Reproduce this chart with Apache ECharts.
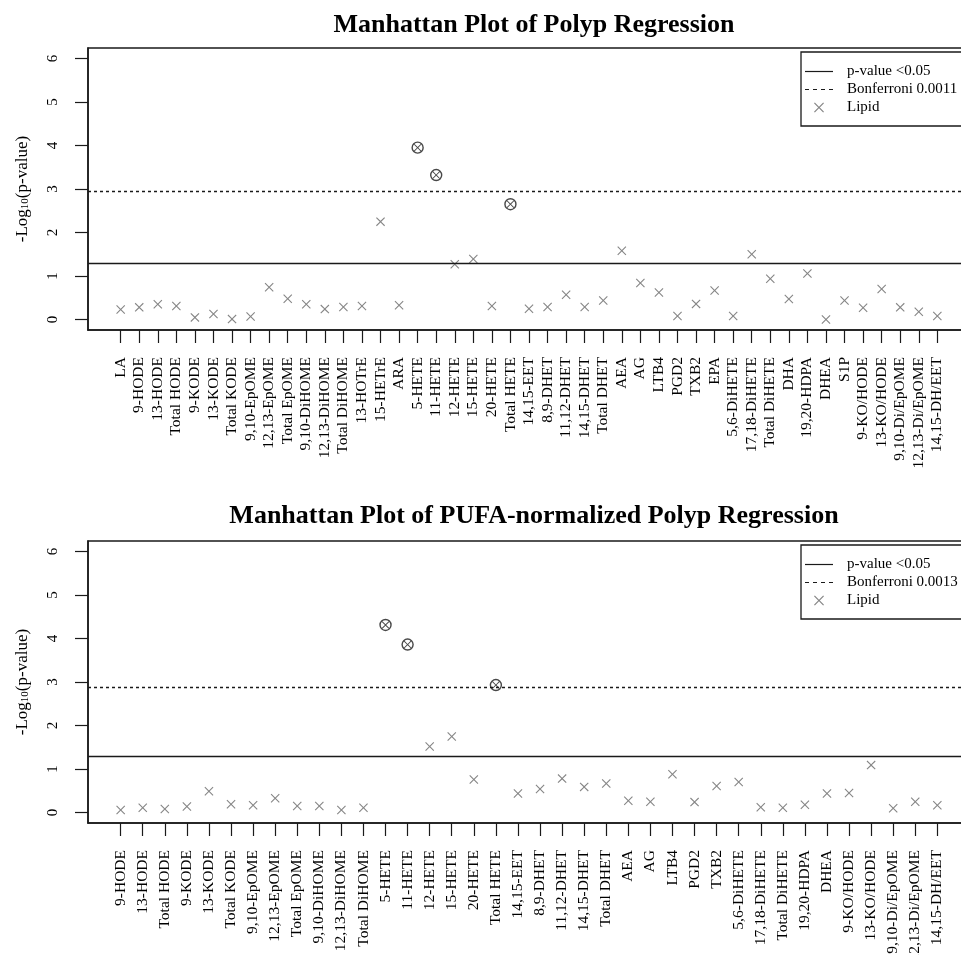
<!DOCTYPE html>
<html>
<head>
<meta charset="utf-8">
<script src="https://cdn.jsdelivr.net/npm/echarts@6/dist/echarts.min.js"></script>
<style>
  html, body { margin: 0; padding: 0; background: #fff; }
  #chart { width: 961px; height: 955px; }
</style>
</head>
<body>
<div id="chart"></div>
<script>
// ---------- data ----------
const topTitle = 'Manhattan Plot of Polyp Regression';
const bottomTitle = 'Manhattan Plot of PUFA-normalized Polyp Regression';

const topCategories = ['LA','9-HODE','13-HODE','Total HODE','9-KODE','13-KODE','Total KODE',
  '9,10-EpOME','12,13-EpOME','Total EpOME','9,10-DiHOME','12,13-DiHOME','Total DiHOME',
  '13-HOTrE','15-HETrE','ARA','5-HETE','11-HETE','12-HETE','15-HETE','20-HETE','Total HETE',
  '14,15-EET','8,9-DHET','11,12-DHET','14,15-DHET','Total DHET','AEA','AG','LTB4','PGD2','TXB2',
  'EPA','5,6-DiHETE','17,18-DiHETE','Total DiHETE','DHA','19,20-HDPA','DHEA','S1P',
  '9-KO/HODE','13-KO/HODE','9,10-Di/EpOME','12,13-Di/EpOME','14,15-DH/EET'];
const topValues = [0.23,0.28,0.35,0.31,0.05,0.13,0.01,0.07,0.74,0.48,0.35,0.24,0.29,
  0.31,2.25,0.33,3.95,3.32,1.27,1.39,0.31,2.65,
  0.25,0.29,0.57,0.29,0.44,1.58,0.84,0.62,0.08,0.36,
  0.67,0.08,1.50,0.94,0.47,1.06,0.00,0.44,
  0.27,0.70,0.28,0.18,0.08];
const topSignificant = ['5-HETE','11-HETE','Total HETE'];

const bottomCategories = ['9-HODE','13-HODE','Total HODE','9-KODE','13-KODE','Total KODE',
  '9,10-EpOME','12,13-EpOME','Total EpOME','9,10-DiHOME','12,13-DiHOME','Total DiHOME',
  '5-HETE','11-HETE','12-HETE','15-HETE','20-HETE','Total HETE',
  '14,15-EET','8,9-DHET','11,12-DHET','14,15-DHET','Total DHET','AEA','AG','LTB4','PGD2','TXB2',
  '5,6-DiHETE','17,18-DiHETE','Total DiHETE','19,20-HDPA','DHEA',
  '9-KO/HODE','13-KO/HODE','9,10-Di/EpOME','12,13-Di/EpOME','14,15-DH/EET'];
const bottomValues = [0.06,0.11,0.08,0.14,0.49,0.19,0.17,0.33,0.15,0.15,0.06,0.11,
  4.31,3.86,1.52,1.75,0.76,2.93,
  0.44,0.54,0.78,0.59,0.67,0.27,0.25,0.88,0.24,0.61,
  0.70,0.12,0.11,0.18,0.44,
  0.45,1.09,0.10,0.25,0.17];
const bottomSignificant = ['5-HETE','11-HETE','Total HETE'];

const yTickValues = [0,1,2,3,4,5,6];
const pLabel = 'p-value <0.05';
const topBonfLabel = 'Bonferroni 0.0011';
const bottomBonfLabel = 'Bonferroni 0.0013';
const alpha = 0.05;

// ---------- styling helpers ----------
const FONT = "'Liberation Serif', 'DejaVu Serif', serif";
const INK = '#1a1a1a';
const X_PATH = 'path://M0,0.85 L0.85,0 L5,4.15 L9.15,0 L10,0.85 L5.85,5 L10,9.15 L9.15,10 L5,5.85 L0.85,10 L0,9.15 L4.15,5 Z';
const SOLID_ICON = 'path://M0,0 L28,0 L28,1.2 L0,1.2 Z';
const DASH_ICON = 'path://M0,0 L4,0 L4,1.2 L0,1.2 Z M8,0 L12,0 L12,1.2 L8,1.2 Z M16,0 L20,0 L20,1.2 L16,1.2 Z M24,0 L28,0 L28,1.2 L24,1.2 Z';

function buildPanel(idx, cats, vals, sigNames, bonfLabel, topPx, titleTop) {
  const n = cats.length;
  const pad = 0.04 * (n - 1);
  const ticks = cats.map((_, i) => i + 1);
  const sig = [], non = [];
  vals.forEach((v, i) => {
    (sigNames.indexOf(cats[i]) >= 0 ? sig : non).push([i + 1, v]);
  });
  const grid = { left: 88, top: topPx, width: 882, height: 282, show: true,
    containLabel: false, outerBoundsMode: 'none',
    borderColor: INK, borderWidth: 1.5, backgroundColor: 'transparent' };
  const xAxis = {
    type: 'value', gridIndex: idx, min: 1 - pad, max: n + pad, position: 'bottom',
    axisLine: { show: true, onZero: false, lineStyle: { color: INK, width: 1.5 } },
    axisTick: { show: true, length: 13, customValues: ticks, lineStyle: { color: INK, width: 1.2 } },
    axisLabel: { show: true, customValues: ticks, rotate: 90, margin: 27,
      fontFamily: FONT, fontSize: 15.5, color: '#000',
      formatter: v => cats[Math.round(v) - 1] || '' },
    splitLine: { show: false }
  };
  const yAxis = {
    type: 'value', gridIndex: idx, min: -0.24, max: 6.24, position: 'left',
    name: '-Log{s|10}(p-value)', nameLocation: 'middle', nameGap: 57, nameRotate: 90,
    nameTextStyle: { fontFamily: FONT, fontSize: 17, color: '#000',
      rich: { s: { fontFamily: FONT, fontSize: 11, color: '#000', padding: [6, 0, 0, 0] } } },
    axisLine: { show: true, onZero: false, lineStyle: { color: INK, width: 1.5 } },
    axisTick: { show: true, length: 13, customValues: yTickValues, lineStyle: { color: INK, width: 1.2 } },
    axisLabel: { show: true, customValues: yTickValues, rotate: 90, margin: 27,
      fontFamily: FONT, fontSize: 15, color: '#000' },
    splitLine: { show: false }
  };
  const series = [
    { type: 'line', name: pLabel, xAxisIndex: idx, yAxisIndex: idx, data: [],
      symbol: 'none', lineStyle: { color: INK, width: 1.3, type: 'solid' }, itemStyle: { color: INK },
      markLine: { silent: true, symbol: ['none', 'none'], label: { show: false },
        lineStyle: { color: INK, width: 1.3, type: 'solid' },
        data: [{ yAxis: -Math.log10(alpha) }] } },
    { type: 'line', name: bonfLabel, xAxisIndex: idx, yAxisIndex: idx, data: [],
      symbol: 'none', lineStyle: { color: INK, width: 1.3, type: [3, 3] }, itemStyle: { color: INK },
      markLine: { silent: true, symbol: ['none', 'none'], label: { show: false },
        lineStyle: { color: INK, width: 1.3, type: [3, 3] },
        data: [{ yAxis: -Math.log10(alpha / n) }] } },
    { type: 'scatter', name: 'Lipid', xAxisIndex: idx, yAxisIndex: idx, data: non,
      symbol: X_PATH, symbolSize: 9, itemStyle: { color: '#666' }, silent: true },
    { type: 'scatter', name: 'sig-circle', xAxisIndex: idx, yAxisIndex: idx, data: sig,
      symbol: 'circle', symbolSize: 11,
      itemStyle: { color: 'rgba(0,0,0,0)', borderColor: INK, borderWidth: 1.4 }, silent: true },
    { type: 'scatter', name: 'sig-x', xAxisIndex: idx, yAxisIndex: idx, data: sig,
      symbol: X_PATH, symbolSize: 7.5, itemStyle: { color: INK }, silent: true }
  ];
  const title = { text: idx === 0 ? topTitle : bottomTitle, left: 529, textAlign: 'center', top: titleTop,
    textStyle: { fontFamily: FONT, fontSize: 26, fontWeight: 'bold', color: '#000' } };
  const legend = {
    orient: 'vertical', left: 801, top: topPx + 4, selectedMode: false,
    borderColor: INK, borderWidth: 1.3, padding: [12, 40, 11, 4],
    itemWidth: 28, itemHeight: 10, itemGap: 3,
    textStyle: { fontFamily: FONT, fontSize: 15, lineHeight: 15, color: '#000', padding: [0, 0, 0, 9] },
    data: [{ name: pLabel, icon: SOLID_ICON }, { name: bonfLabel, icon: DASH_ICON }, { name: 'Lipid' }]
  };
  return { grid, xAxis, yAxis, series, title, legend };
}

const p1 = buildPanel(0, topCategories, topValues, topSignificant, topBonfLabel, 48, 7);
const p2 = buildPanel(1, bottomCategories, bottomValues, bottomSignificant, bottomBonfLabel, 541, 498);

const chart = echarts.init(document.getElementById('chart'), null, { renderer: 'canvas' });
chart.setOption({
  animation: false,
  backgroundColor: '#fff',
  title: [p1.title, p2.title],
  legend: [p1.legend, p2.legend],
  grid: [p1.grid, p2.grid],
  xAxis: [p1.xAxis, p2.xAxis],
  yAxis: [p1.yAxis, p2.yAxis],
  series: p1.series.concat(p2.series)
});
</script>
</body>
</html>
